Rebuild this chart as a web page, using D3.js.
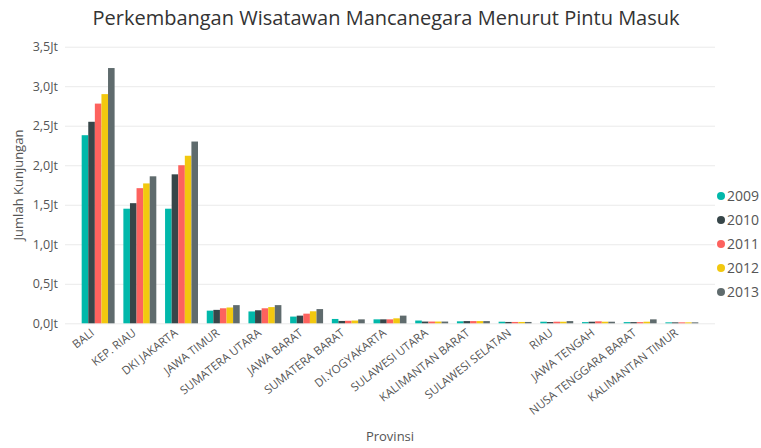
<!DOCTYPE html>
<html>
<head>
<meta charset="utf-8">
<script src="https://cdn.jsdelivr.net/npm/d3@7"></script>
<style>
  body { margin: 0; background: #fff; }
  svg text { font-family: "Open Sans", "Noto Sans", sans-serif; }
</style>
</head>
<body>
<svg id="chart" width="761" height="448"></svg>
<script>
const provinces = ["BALI", "KEP. RIAU", "DKI JAKARTA", "JAWA TIMUR", "SUMATERA UTARA", "JAWA BARAT",
  "SUMATERA BARAT", "DI.YOGYAKARTA", "SULAWESI UTARA", "KALIMANTAN BARAT", "SULAWESI SELATAN",
  "RIAU", "JAWA TENGAH", "NUSA TENGGARA BARAT", "KALIMANTAN TIMUR"];
const years = ["2009", "2010", "2011", "2012", "2013"];
const colors = ["#01b8aa", "#374649", "#fd625e", "#f2c80f", "#5f6b6d"];

// visitors in millions (Jt)
const v2009 = [2.38, 1.45, 1.45, 0.16, 0.15, 0.085, 0.055, 0.05, 0.035, 0.025, 0.02, 0.02, 0.015, 0.015, 0.012];
const v2010 = [2.55, 1.52, 1.885, 0.17, 0.165, 0.097, 0.03, 0.05, 0.022, 0.028, 0.017, 0.016, 0.02, 0.015, 0.012];
const v2011 = [2.78, 1.71, 2.0, 0.19, 0.19, 0.122, 0.032, 0.05, 0.022, 0.028, 0.017, 0.02, 0.025, 0.015, 0.012];
const v2012 = [2.90, 1.77, 2.12, 0.20, 0.205, 0.152, 0.035, 0.063, 0.022, 0.028, 0.017, 0.02, 0.02, 0.02, 0.012];
const v2013 = [3.23, 1.86, 2.30, 0.23, 0.23, 0.18, 0.05, 0.097, 0.022, 0.028, 0.017, 0.028, 0.02, 0.05, 0.012];
const series = [v2009, v2010, v2011, v2012, v2013];
const yTicks = [0, 0.5, 1, 1.5, 2, 2.5, 3, 3.5];

const svg = d3.select("#chart");

const x = d3.scaleBand().domain(provinces).range([65, 715]).paddingInner(0.21).paddingOuter(0.4);
const x1 = d3.scaleBand().domain(years).range([0, x.bandwidth()]);
const y = d3.scaleLinear().domain([0, 3.5]).range([323.3, 46.7]);

// title
svg.append("text")
  .attr("x", 386).attr("y", 25)
  .attr("text-anchor", "middle")
  .attr("font-size", 20)
  .attr("fill", "#333")
  .text("Perkembangan Wisatawan Mancanegara Menurut Pintu Masuk");

// grid + y axis
const yAxis = svg.append("g")
  .attr("transform", "translate(65,0)")
  .call(d3.axisLeft(y).tickValues(yTicks).tickSize(-650).tickPadding(7)
    .tickFormat(d => d3.format(".1f")(d).replace(".", ",") + "Jt"));
yAxis.select(".domain").remove();
yAxis.selectAll(".tick line").attr("stroke", "#eaeaea");
yAxis.selectAll(".tick text").attr("font-size", 12.5).attr("fill", "#555");

svg.append("text")
  .attr("transform", "translate(23,185) rotate(-90)")
  .attr("text-anchor", "middle")
  .attr("font-size", 13)
  .attr("fill", "#555")
  .text("Jumlah Kunjungan");

// bars
const groups = svg.append("g").selectAll("g")
  .data(provinces)
  .join("g")
  .attr("transform", d => `translate(${x(d)},0)`);

groups.selectAll("rect")
  .data((p, i) => years.map((yr, j) => ({ yr, j, v: series[j][i] })))
  .join("rect")
  .attr("x", d => x1(d.yr))
  .attr("width", x1.bandwidth())
  .attr("y", d => y(d.v))
  .attr("height", d => y(0) - y(d.v))
  .attr("fill", d => colors[d.j]);

// x labels
const xAxis = svg.append("g")
  .attr("transform", "translate(0,323.3)")
  .call(d3.axisBottom(x).tickSize(0).tickPadding(0));
xAxis.select(".domain").remove();
xAxis.selectAll(".tick text")
  .attr("font-size", 11.5)
  .attr("fill", "#555")
  .attr("text-anchor", "end")
  .attr("dy", 0)
  .attr("transform", "translate(-3,11) rotate(-38)");

svg.append("text")
  .attr("x", 390).attr("y", 441)
  .attr("text-anchor", "middle")
  .attr("font-size", 13)
  .attr("fill", "#555")
  .text("Provinsi");

// legend
const legend = svg.append("g").selectAll("g")
  .data(years)
  .join("g")
  .attr("transform", (d, i) => `translate(721,${196 + i * 24})`);
legend.append("circle").attr("r", 4).attr("fill", (d, i) => colors[i]);
legend.append("text")
  .attr("x", 6).attr("dy", "0.35em")
  .attr("font-size", 14)
  .attr("fill", "#555")
  .text(d => d);
</script>
</body>
</html>
